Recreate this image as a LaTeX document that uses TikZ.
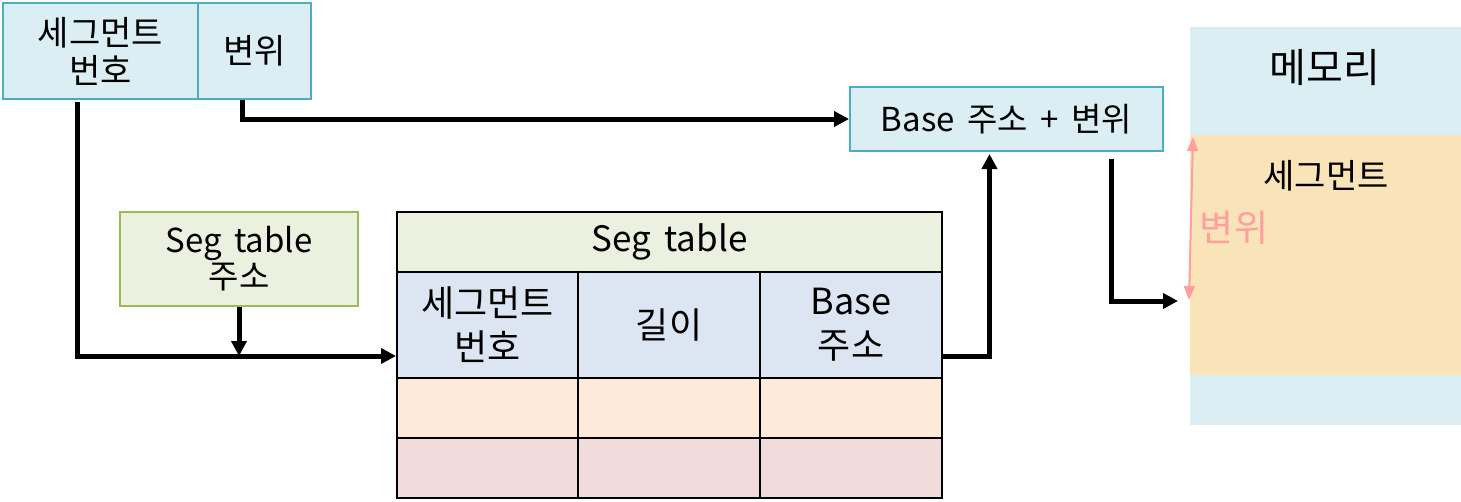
\documentclass[tikz,border=0pt]{standalone}
\usepackage{fontspec}
\setmainfont{Noto Sans CJK KR}
\usetikzlibrary{arrows.meta,positioning,calc}
\definecolor{lblue}{HTML}{DAEEF3}
\definecolor{bborder}{HTML}{4BACC6}
\definecolor{lgreen}{HTML}{EBF1DE}
\definecolor{gborder}{HTML}{9BBB59}
\definecolor{rowblue}{HTML}{DCE6F2}
\definecolor{rowpeach}{HTML}{FDEADA}
\definecolor{rowpink}{HTML}{F2DCDB}
\definecolor{segorange}{HTML}{F9E3B8}
\definecolor{pinkline}{HTML}{FF9F9F}
\newcommand{\wsp}{\hspace{0.38em}}
\tikzset{
  txt/.style={font=\fontsize{34}{38}\selectfont, align=center},
  bluebox/.style={txt, draw=bborder, fill=lblue, line width=2pt, inner sep=0pt, anchor=north west},
  greenbox/.style={txt, draw=gborder, fill=lgreen, line width=2pt, inner sep=0pt, anchor=north west},
  cell/.style={txt, font=\fontsize{36}{44}\selectfont, draw=black, line width=2pt, inner sep=0pt, anchor=north west},
  arr/.style={line width=5pt, -{Triangle[length=15pt,width=15pt]}},
  pinkarr/.style={draw=pinkline, line width=2pt, {Triangle[length=14pt,width=11pt]}-{Triangle[length=14pt,width=11pt]}}
}
\begin{document}
\begin{tikzpicture}[x=1pt,y=-1pt]
\useasboundingbox (0,0) rectangle (1461,501);
% top-left logical address
\node[bluebox, minimum width=195pt, minimum height=96pt] (segno) at (2,2) {세그먼트\\번호};
\node[bluebox, minimum width=113pt, minimum height=96pt] (off) at (197,2) {변위};
% seg table address
\node[greenbox, minimum width=238pt, minimum height=94pt, font=\fontsize{33}{36}\selectfont] (segaddr) at (119,211) {Seg\wsp table\\주소};
% segment table
\node[cell, fill=lgreen, minimum width=545pt, minimum height=60pt, font=\fontsize{35}{40}\selectfont] (thead) at (396,211) {Seg\wsp table};
\node[cell, fill=rowblue, minimum width=181pt, minimum height=106pt] (c21) at (396,271) {세그먼트\\번호};
\node[cell, fill=rowblue, minimum width=182pt, minimum height=106pt] (c22) at (577,271) {길이};
\node[cell, fill=rowblue, minimum width=182pt, minimum height=106pt] (c23) at (759,271) {Base\\주소};
\node[cell, fill=rowpeach, minimum width=181pt, minimum height=60pt] (c31) at (396,377) {};
\node[cell, fill=rowpeach, minimum width=182pt, minimum height=60pt] (c32) at (577,377) {};
\node[cell, fill=rowpeach, minimum width=182pt, minimum height=60pt] (c33) at (759,377) {};
\node[cell, fill=rowpink, minimum width=181pt, minimum height=60pt] (c41) at (396,437) {};
\node[cell, fill=rowpink, minimum width=182pt, minimum height=60pt] (c42) at (577,437) {};
\node[cell, fill=rowpink, minimum width=182pt, minimum height=60pt] (c43) at (759,437) {};
% base + offset
\node[bluebox, minimum width=313pt, minimum height=64pt, font=\fontsize{33}{38}\selectfont] (base) at (849,86) {Base\wsp 주소\wsp +\wsp 변위};
% memory
\node[fill=lblue, minimum width=271pt, minimum height=398pt, inner sep=0pt, anchor=north west] (mem) at (1190,27) {};
\node[fill=segorange, minimum width=271pt, minimum height=240pt, inner sep=0pt, anchor=north west] (seg) at (1190,135) {};
\node[txt, font=\fontsize{40}{44}\selectfont] (memlbl) at (1325,68) {메모리};
\node[txt] (seglbl) at (1326,176) {세그먼트};
\node[txt, text=pinkline, font=\fontsize{37}{40}\selectfont] (offlbl) at (1234,228) {변위};
\coordinate (ptop) at (1193,137);
\coordinate (pbot) at (1189,300);
\draw[pinkarr] (ptop) -- (pbot);
% connectors
\coordinate (in1) at ([yshift=23pt]c21.south west);
\coordinate (memin) at (1178,301);
\draw[arr] ([xshift=75pt,yshift=-2pt]segno.south west) |- (in1);
\draw[arr] (segaddr.south) -- (segaddr.south |- in1);
\draw[arr] ([xshift=-12pt]off.south) |- (base.west);
\draw[arr] (c23.east |- in1) -| ([xshift=-17pt,yshift=-2pt]base.south);
\draw[arr] ([xshift=105pt,yshift=-7pt]base.south) |- (memin);
\end{tikzpicture}
\end{document}
